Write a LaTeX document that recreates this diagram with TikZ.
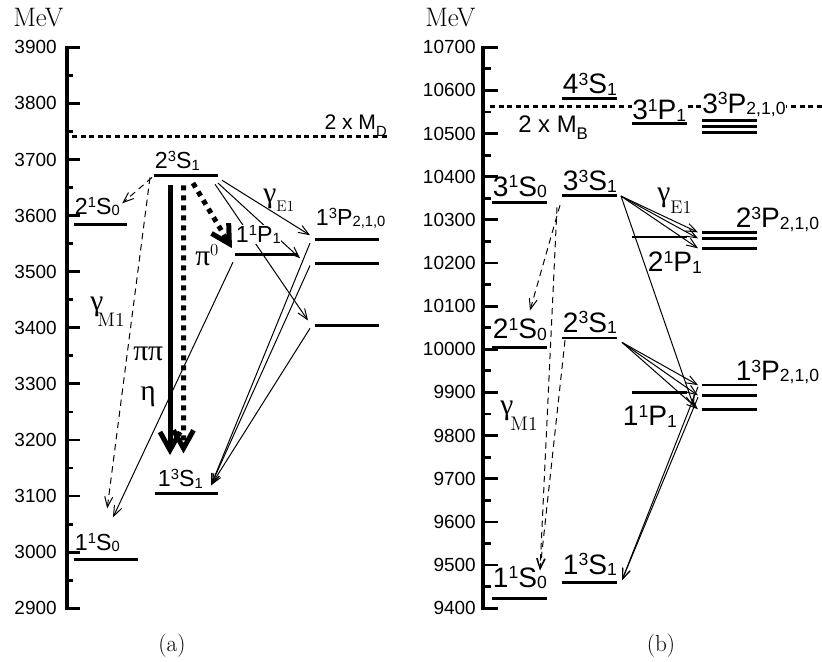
\documentclass[tikz,border=0pt]{standalone}
\usepackage{fontspec}
\newfontfamily\labelfont{Liberation Sans}
\newfontfamily\greekfont{Liberation Serif}
\usetikzlibrary{arrows.meta,calc,positioning}
\tikzset{
  levelline/.style={line width=0.068cm},
  axisline/.style={line width=0.1cm,shorten <=-0.035cm,shorten >=-0.035cm},
  tickmark/.style={line width=0.07cm},
  ticklabel/.style={font=\labelfont\fontsize{13.5}{15}\selectfont,anchor=east,inner sep=0pt},
  thresh/.style={line width=0.07cm,dash pattern=on 0.125cm off 0.09cm},
  termL/.style={font=\labelfont\fontsize{16.5}{18}\selectfont\def\tsz{10.5},inner sep=0.5pt},
  termR/.style={font=\labelfont\fontsize{20}{22}\selectfont\def\tsz{12.5},inner sep=0.5pt},
  thrL/.style={font=\labelfont\fontsize{15}{17}\selectfont\def\tsz{10.5},inner sep=0pt},
  thrR/.style={font=\labelfont\fontsize{17}{19}\selectfont\def\tsz{12},inner sep=0pt},
  mask/.style={fill=white},
  greek/.style={font=\greekfont\fontsize{21}{23}\selectfont,inner sep=0pt,anchor=base west},
  trans/.style={line width=0.025cm,-{Straight Barb[length=0.26cm,width=0.2cm]}},
  mone/.style={trans,dash pattern=on 0.16cm off 0.12cm},
  hadron/.style={line width=0.125cm,-{Straight Barb[length=0.45cm,width=0.5cm]}},
  hadrondot/.style={hadron,dash pattern=on 0.125cm off 0.125cm},
  panellabel/.style={font=\fontsize{16.5}{18}\selectfont,anchor=base,inner sep=0pt},
  unitlabel/.style={font=\fontsize{19}{21}\selectfont,anchor=base west,inner sep=0pt}
}
% spectroscopic term n^{2S+1}L_J, script size \tsz from the style
\newcommand{\term}[4]{#1\raisebox{0.3em}{\fontsize{\tsz}{\tsz}\selectfont #2}#3%
  \raisebox{-0.05em}{\fontsize{\tsz}{\tsz}\selectfont #4}}
% meson pair threshold
\newcommand{\thr}[1]{2 x M\raisebox{-0.3em}{\fontsize{\tsz}{\tsz}\selectfont #1}}
% photon with multipole subscript: text, size, drop, kern
\newcommand{\gam}[4]{γ\kern#4\raisebox{-#3}{\normalfont\fontsize{#2}{#2}\selectfont #1}}
% level line with end points (name-l), (name-r)
\newcommand{\energylevel}[4]{%
  \draw[levelline] (#2,#4) coordinate (#1-l) -- (#3,#4) coordinate (#1-r);
  \coordinate (#1) at ($(#1-l)!0.5!(#1-r)$);
}

\begin{document}
\begin{tikzpicture}
  \useasboundingbox (0,0) rectangle (20.55,16.55);

  % (a) charmonium, y in MeV
  \begin{scope}[y=0.014025cm,yshift=-39.3225cm]
    \draw[thresh] (1.8,3741) coordinate (thrD-l) -- (9.675,3741) coordinate (thrD-r);

    \energylevel{etac}{1.85}{3.45}{2987}
    \energylevel{jpsi}{3.875}{5.45}{3105}
    \energylevel{etacp}{1.85}{3.175}{3584}
    \energylevel{psip}{3.85}{5.45}{3672}
    \energylevel{hc}{5.875}{7.45}{3531}
    \energylevel{chiA}{7.875}{9.475}{3558}
    \energylevel{chiB}{7.875}{9.475}{3515}
    \energylevel{chiC}{7.875}{9.475}{3404}

    % transitions
    \draw[mone] ($(psip-l)+(-0.05,-4)$) -- ($(etacp-r)+(-0.12,38)$);
    \draw[mone] ($(psip-l)+(-0.1,-4)$) -- ($(etac)+(0.03,91)$);
    \draw[trans] ($(hc-l)+(-0.05,-14)$) -- ($(etac)+(0.175,75)$);
    \draw[hadron] ($(psip-l)+(0.4,-18)$) -- ($(jpsi-l)+(0.375,68)$);
    \draw[hadrondot] ($(psip-l)+(0.7375,-18)$) -- ($(jpsi-l)+(0.7125,71)$);
    \draw[hadrondot] ($(psip-l)+(0.975,-14)$) -- ($(hc-l)+(-0.075,11)$);
    \draw[trans] ($(psip-r)+(0.1,-9)$) -- ($(chiA-l)+(-0.125,7)$);
    \draw[trans] ($(psip-r)+(0,-14)$) -- ($(chiB-l)+(-0.375,9)$);
    \draw[trans] ($(psip-r)+(-0.075,-16)$) -- ($(chiC-l)+(-0.175,9)$);
    \foreach \lv/\dE in {chiA/-7,chiB/-4,chiC/-5}
      \draw[trans] ($(\lv-l)+(-0.125,\dE)$) -- ($(jpsi-r)+(-0.175,14)$);

    % level labels
    \node[termL,above right=4.5pt and 0pt of etac-l] (etac-t) {\term{1}{1}{S}{0}};
    \node[termL,above right=3pt and 0.05cm of jpsi-l] (jpsi-t) {\term{1}{3}{S}{1}};
    \node[termL,above right=5.5pt and 0pt of etacp-l] (etacp-t) {\term{2}{1}{S}{0}};
    \node[termL,above right=3pt and 0pt of psip-l] (psip-t) {\term{2}{3}{S}{1}};
    \node[termL,mask,above right=7pt and 0pt of hc-l] (hc-t) {\term{1}{1}{P}{1}};
    \node[termL,above right=7pt and 0pt of chiA-l] (chiA-t) {\term{1}{3}{P}{2,1,0}};
    \node[thrL,anchor=south east] (thrD-t) at (thrD-r) {\thr{D}};

    \node[greek] (gE1a) at (6.575,3624) {\gam{E1}{11}{0.3em}{0em}};
    \node[greek] (gM1a) at (2.25,3431) {\gam{M1}{14}{0.55em}{-0.2em}};
    \node[greek] (pipi) at (3.325,3342) {ππ};
    \node[greek] (eta) at (3.5,3271) {η};
    \node[greek] (pizero) at (4.875,3511) {π\raisebox{0.35em}{\normalfont\fontsize{12}{12}\selectfont 0}};

    % axis
    \foreach \E in {2900,3000,...,3900} {
      \draw[tickmark] (1.675,\E) -- (2.0,\E);
      \node[ticklabel] (tlA-\E) at (1.425,\E) {\E};
    }
    \foreach \E in {2950,3050,...,3850}
      \draw[tickmark] (1.675,\E) -- (1.825,\E);
    \draw[axisline] (1.675,2900) -- (1.675,3900);
  \end{scope}

  % (b) bottomonium, y in MeV
  \begin{scope}[y=0.0107885cm,yshift=-100.0619cm]
    \draw[thresh] (12.25,10563) coordinate (thrB-l) -- (20.55,10563) coordinate (thrB-r);

    \energylevel{etab}{12.3}{13.675}{9423}
    \energylevel{etabB}{12.3}{13.675}{10005}
    \energylevel{etabC}{12.3}{13.675}{10341}
    \energylevel{upsA}{14.05}{15.425}{9460}
    \energylevel{upsB}{14.05}{15.425}{10026}
    \energylevel{upsC}{14.05}{15.425}{10357}
    \energylevel{upsD}{14.05}{15.425}{10582}
    \energylevel{hbA}{15.8}{17.175}{9900}
    \energylevel{hbB}{15.8}{17.175}{10260}
    \energylevel{hbC}{15.8}{17.175}{10524}
    \foreach \n/\E in {A2/9917,A1/9893,A0/9861,B2/10271,B1/10257,B0/10234,C2/10530,C1/10516,C0/10503}
      {\energylevel{chib\n}{17.55}{18.925}{\E}}

    % transitions
    \draw[mone] ($(upsC-l)+(-0.05,-23)$) -- ($(etabB-r)+(-0.425,85)$);
    \draw[mone] ($(upsC-l)+(-0.125,-28)$) -- ($(etab-r)+(-0.175,65)$);
    \draw[mone] ($(upsB-l)+(0.075,-5)$) -- ($(etab-r)+(-0.175,65)$);
    \foreach \J in {2,1,0}
      \draw[trans] ($(upsC-r)+(0.1,-2)$) -- ($(chibB\J-l)+(-0.1,0)$);
    \draw[trans] ($(upsC-r)+(0.1,-2)$) -- ($(chibA0-l)+(-0.2,5)$);
    \foreach \J in {2,1,0}
      \draw[trans] ($(upsB-r)+(0.125,-10)$) -- ($(chibA\J-l)+(-0.1,0)$);
    \foreach \J in {2,1}
      \draw[trans] ($(chibA\J-l)+(-0.1,-4)$) -- ($(upsA-r)+(0.125,5)$);

    % level labels
    \node[termR,above right=6pt and 0pt of etab-l] (etab-t) {\term{1}{1}{S}{0}};
    \node[termR,above right=4pt and 0pt of etabB-l] (etabB-t) {\term{2}{1}{S}{0}};
    \node[termR,above right=2.5pt and 0pt of etabC-l] (etabC-t) {\term{3}{1}{S}{0}};
    \node[termR,above right=4pt and 0pt of upsA-l] (upsA-t) {\term{1}{3}{S}{1}};
    \node[termR,above right=2.5pt and 0pt of upsB-l] (upsB-t) {\term{2}{3}{S}{1}};
    \node[termR,above right=1.5pt and 0pt of upsC-l] (upsC-t) {\term{3}{3}{S}{1}};
    \node[termR,above right=1.5pt and 0pt of upsD-l] (upsD-t) {\term{4}{3}{S}{1}};
    \node[termR,below right=0.3cm and -0.25cm of hbA-l] (hbA-t) {\term{1}{1}{P}{1}};
    \node[termR,below right=0.33cm and 0.375cm of hbB-l] (hbB-t) {\term{2}{1}{P}{1}};
    \node[termR,mask,inner sep=0pt,above right=1.2pt and 0pt of hbC-l] (hbC-t) {\term{3}{1}{P}{1}};
    \node[termR,anchor=south east] (chibA-t) at ($(chibA2-r)+(1.575,0)$) {\term{1}{3}{P}{2,1,0}};
    \node[termR,anchor=south east] (chibB-t) at ($(chibB2-r)+(1.575,0)$) {\term{2}{3}{P}{2,1,0}};
    \node[termR,mask,inner sep=0pt,above right=2.5pt and 0pt of chibC2-l] (chibC-t) {\term{3}{3}{P}{2,1,0}};
    \node[thrR,below right=0.22cm and 0.7cm of thrB-l] (thrB-t) {\thr{B}};

    \node[greek] (gE1b) at (16.425,10343) {\gam{E1}{13}{0.4em}{0em}};
    \node[greek] (gM1b) at (12.5,9850) {\gam{M1}{14}{0.55em}{-0.1em}};

    % axis
    \foreach \E in {9400,9500,...,10700} {
      \draw[tickmark] (12.075,\E) -- (12.45,\E);
      \node[ticklabel] (tlB-\E) at (11.9,\E) {\E};
    }
    \foreach \E in {9450,9550,...,10650}
      \draw[tickmark] (12.075,\E) -- (12.275,\E);
    \draw[axisline] (12.075,9400) -- (12.075,10700);
  \end{scope}

  % units and panel captions
  \node[unitlabel] (unitA) at (0.325,15.88) {MeV};
  \node[unitlabel] (unitB) at (10.625,15.88) {MeV};
  \node[panellabel] (capA) at (4.3,0.25) {(a)};
  \node[panellabel] (capB) at (16.525,0.25) {(b)};
\end{tikzpicture}
\end{document}
